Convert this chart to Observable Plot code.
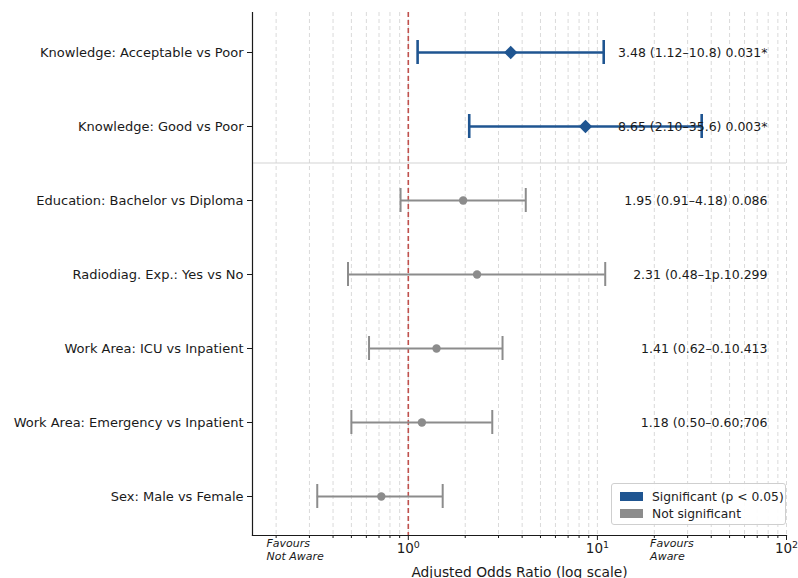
<!DOCTYPE html>
<html>
<head>
<meta charset="utf-8">
<script src="https://cdn.jsdelivr.net/npm/d3@7"></script>
<script src="https://cdn.jsdelivr.net/npm/@observablehq/plot@0.6"></script>
<style>
  body { margin: 0; background: #fff; font-family: "DejaVu Sans", sans-serif; }
  #wrap { position: relative; width: 798px; height: 578px; }
  #legend { position: absolute; left: 611px; top: 483px; width: 175px; height: 42px;
    border: 1px solid #cfcfcf; border-radius: 3px; background: rgba(255,255,255,0.9);
    font-size: 12.3px; color: #222; box-sizing: border-box; padding: 4px 0 0 8px; }
  .item { display: flex; align-items: center; height: 17px; }
  .sw { width: 23px; height: 9px; margin-right: 9px; }
</style>
</head>
<body>
<div id="wrap"></div>
<script>
const labels = [
  "Knowledge: Acceptable vs Poor",
  "Knowledge: Good vs Poor",
  "Education: Bachelor vs Diploma",
  "Radiodiag. Exp.: Yes vs No",
  "Work Area: ICU vs Inpatient",
  "Work Area: Emergency vs Inpatient",
  "Sex: Male vs Female"
];
const oddsRatio = [3.48, 8.65, 1.95, 2.31, 1.41, 1.18, 0.72];
const ciLower   = [1.12, 2.10, 0.91, 0.48, 0.62, 0.50, 0.33];
const ciUpper   = [10.8, 35.6, 4.18, 11.0, 3.15, 2.78, 1.52];
const significant = [true, true, false, false, false, false, false];
const annotations = [
  "3.48 (1.12–10.8) 0.031*",
  "8.65 (2.10–35.6) 0.003*",
  "1.95 (0.91–4.18) 0.086",
  "2.31 (0.48–1p.10.299",
  "1.41 (0.62–0.10.413",
  "1.18 (0.50–0.60;706",
  ""
];
const xDomain = [0.15, 100];
const majorTicks = [1, 10, 100];
const majorTickBase = "10";
const majorTickExponents = ["0", "1", "2"];
const minorTicks = [0.2,0.3,0.4,0.5,0.6,0.7,0.8,0.9,2,3,4,5,6,7,8,9,20,30,40,50,60,70,80,90];
const legendLabels = ["Significant (p < 0.05)", "Not significant"];

const BLUE = "#1f5591", GRAY = "#8c8c8c";
const rows = labels.map((label, i) => ({
  label, or: oddsRatio[i], lo: ciLower[i], hi: ciUpper[i],
  sig: significant[i], note: annotations[i]
}));
const sigRows = rows.filter(d => d.sig), nsRows = rows.filter(d => !d.sig);
const gridTicks = [...minorTicks, ...majorTicks];

const chart = Plot.plot({
  width: 798, height: 578,
  marginLeft: 252, marginRight: 12, marginTop: 12, marginBottom: 43,
  style: { fontFamily: "DejaVu Sans, sans-serif", color: "#1a1a1a", background: "#fff" },
  x: { type: "log", domain: xDomain },
  y: { type: "band", domain: labels, padding: 0 },
  marks: [
    Plot.ruleX(gridTicks, { stroke: "#dadada", strokeDasharray: "4,3", strokeWidth: 1 }),
    Plot.ruleY([labels[2]], { stroke: "#d3d3d3", strokeWidth: 1, dy: -37.5 }),
    Plot.ruleX([1], { stroke: "#c0504d", strokeWidth: 1.6, strokeDasharray: "5,3" }),
    Plot.ruleY(sigRows, { y: "label", x1: "lo", x2: "hi", stroke: BLUE, strokeWidth: 2.6 }),
    Plot.tickX(sigRows, { x: "lo", y: "label", stroke: BLUE, strokeWidth: 2.6, insetTop: 25, insetBottom: 25 }),
    Plot.tickX(sigRows, { x: "hi", y: "label", stroke: BLUE, strokeWidth: 2.6, insetTop: 25, insetBottom: 25 }),
    Plot.ruleY(nsRows, { y: "label", x1: "lo", x2: "hi", stroke: GRAY, strokeWidth: 2 }),
    Plot.tickX(nsRows, { x: "lo", y: "label", stroke: GRAY, strokeWidth: 2, insetTop: 25, insetBottom: 25 }),
    Plot.tickX(nsRows, { x: "hi", y: "label", stroke: GRAY, strokeWidth: 2, insetTop: 25, insetBottom: 25 }),
    Plot.dot(sigRows, { x: "or", y: "label", symbol: "diamond2", r: 6, fill: BLUE, stroke: "none" }),
    Plot.dot(nsRows, { x: "or", y: "label", symbol: "circle", r: 4.2, fill: GRAY, stroke: "none" }),
    Plot.text(rows.filter(d => d.note), { y: "label", text: "note", frameAnchor: "right", textAnchor: "end", dx: -19, fontSize: 12.5, fill: "#1a1a1a" }),
    Plot.axisY({ tickSize: 5, tickPadding: 4, fontSize: 13, label: null, fill: "#1a1a1a" }),
    Plot.axisX({ ticks: minorTicks, tickSize: 3, text: null, label: null }),
    Plot.axisX({ ticks: majorTicks, tickSize: 5, tickPadding: 3, fontSize: 13.5,
      tickFormat: d => majorTickBase + "^" + majorTickExponents[majorTicks.indexOf(d)], label: null }),
    Plot.frame({ anchor: "left", stroke: "#1a1a1a", strokeWidth: 1.2 }),
    Plot.frame({ anchor: "bottom", stroke: "#1a1a1a", strokeWidth: 1.2 }),
    Plot.text(["Favours\nNot Aware"], { frameAnchor: "bottom-left", textAnchor: "start", lineAnchor: "top", dx: 14, dy: 3, fontSize: 11, fontStyle: "italic", lineHeight: 1.15 }),
    Plot.text(["Favours\nAware"], { x: [19], frameAnchor: "bottom", textAnchor: "start", lineAnchor: "top", dy: 3, fontSize: 11, fontStyle: "italic", lineHeight: 1.15 }),
    Plot.text(["Adjusted Odds Ratio (log scale)"], { frameAnchor: "bottom", lineAnchor: "bottom", dy: 41, fontSize: 13.8 })
  ]
});

// render exponents as superscripts
d3.select(chart).selectAll("text").each(function () {
  const t = this.textContent;
  const m = /^10\^(\d)$/.exec(t);
  if (m) {
    const sel = d3.select(this);
    sel.text(null);
    sel.append("tspan").attr("font-size", "13.5px").text("10");
    sel.append("tspan").attr("dy", "-0.5em").attr("font-size", "9.5px").text(m[1]);
  }
});

const wrap = document.getElementById("wrap");
wrap.appendChild(chart);
const legend = document.createElement("div");
legend.id = "legend";
[[BLUE, legendLabels[0]], [GRAY, legendLabels[1]]].forEach(([c, t]) => {
  const it = document.createElement("div"); it.className = "item";
  const sw = document.createElement("div"); sw.className = "sw"; sw.style.background = c;
  const tx = document.createElement("span"); tx.textContent = t;
  it.appendChild(sw); it.appendChild(tx); legend.appendChild(it);
});
wrap.appendChild(legend);
</script>
</body>
</html>
